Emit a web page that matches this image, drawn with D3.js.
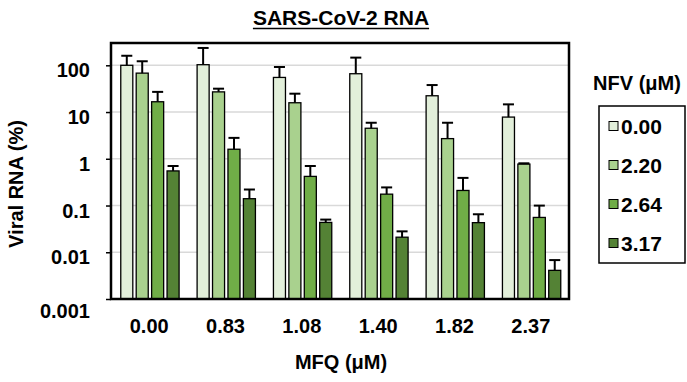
<!DOCTYPE html>
<html><head><meta charset="utf-8">
<script src="https://cdn.jsdelivr.net/npm/d3@7"></script>
<style>
body{margin:0;background:#fff;}
text{font-family:"Liberation Sans",Arial,sans-serif;font-weight:bold;fill:#000;}
</style></head>
<body><svg id="chart" width="687" height="382"></svg>
<script>
const categories = ["0.00","0.83","1.08","1.40","1.82","2.37"];
const seriesNames = ["0.00","2.20","2.64","3.17"];
const seriesColors = ["#e2efda","#a9d18e","#70ad47","#548235"];
const s0 = [100, 103, 55, 66, 22.3, 7.8];
const s1 = [68, 27, 15.8, 4.5, 2.7, 0.77];
const s2 = [16.6, 1.6, 0.42, 0.175, 0.21, 0.0556];
const s3 = [0.55, 0.14, 0.0435, 0.021, 0.043, 0.0041];
const e0 = [60, 132, 37, 80, 15.5, 6.8];
const e1 = [54, 4.6, 8.9, 1.4, 3.2, 0.03];
const e2 = [10.4, 1.2, 0.28, 0.069, 0.18, 0.044];
const e3 = [0.15, 0.08, 0.0065, 0.007, 0.022, 0.0027];
const yTicks = [0.001, 0.01, 0.1, 1, 10, 100];
const yTickLabels = ["0.001","0.01","0.1","1","10","100"];
const yMin = 0.001, yMax = 300;

const values = [s0, s1, s2, s3];
const errors = [e0, e1, e2, e3];

const svg = d3.select("#chart");
const L = 111, R = 569, T = 43, B = 299;

const x0 = d3.scaleBand().domain(categories).range([L, R]).padding(0);
const bw = x0.bandwidth();
const x1 = d3.scaleBand().domain(seriesNames).range([bw*0.128, bw*0.892]).paddingInner(0.22).paddingOuter(0);
const y = d3.scaleLog().domain([yMin, yMax]).range([B, T]);

// gridlines
svg.append("g").selectAll("line").data(yTicks.filter(d => d > yMin)).join("line")
  .attr("x1", L).attr("x2", R).attr("y1", d => y(d)).attr("y2", d => y(d))
  .attr("stroke", "#d9d9d9").attr("stroke-width", 1.5);

// y axis
const yAxis = d3.axisLeft(y).tickValues(yTicks).tickFormat((d,i) => yTickLabels[i]).tickSize(5).tickPadding(16);
const ga = svg.append("g").attr("transform", `translate(${L},0)`).call(yAxis);
ga.select(".domain").remove();
ga.selectAll(".tick line").attr("stroke", "#000").attr("stroke-width", 1.5);
ga.selectAll(".tick text").attr("font-size", 20).attr("font-family", null).attr("dy", "0.58em")
  .filter(d => d === yMin).attr("dy", "0.9em");

// bars
const data = [];
categories.forEach((c, i) => seriesNames.forEach((s, j) => data.push({c, s, j, v: values[j][i], e: errors[j][i]})));
const bars = svg.append("g");
bars.selectAll("rect").data(data).join("rect")
  .attr("x", d => x0(d.c) + x1(d.s)).attr("width", x1.bandwidth())
  .attr("y", d => y(d.v)).attr("height", d => B - y(d.v))
  .attr("fill", d => seriesColors[d.j]).attr("stroke", "#000").attr("stroke-width", 1.3);

// error bars
const eg = svg.append("g").attr("stroke", "#000").attr("stroke-width", 2);
eg.selectAll("line.v").data(data).join("line").attr("class","v")
  .attr("x1", d => x0(d.c) + x1(d.s) + x1.bandwidth()/2).attr("x2", d => x0(d.c) + x1(d.s) + x1.bandwidth()/2)
  .attr("y1", d => y(d.v)).attr("y2", d => y(d.v + d.e));
eg.selectAll("line.h").data(data).join("line").attr("class","h")
  .attr("x1", d => x0(d.c) + x1(d.s) + 0.5).attr("x2", d => x0(d.c) + x1(d.s) + x1.bandwidth() - 0.5)
  .attr("y1", d => y(d.v + d.e)).attr("y2", d => y(d.v + d.e));

// frame
svg.append("rect").attr("x", L).attr("y", T).attr("width", R - L).attr("height", B - T)
  .attr("fill", "none").attr("stroke", "#000").attr("stroke-width", 2.5);

// x axis labels
const xAxis = d3.axisBottom(x0).tickSize(0).tickPadding(20);
const gx = svg.append("g").attr("transform", `translate(0,${B})`).call(xAxis);
gx.select(".domain").remove();
gx.selectAll(".tick text").attr("font-size", 20).attr("font-family", null);

// axis titles
svg.append("text").attr("x", 341).attr("y", 369).attr("text-anchor", "middle").attr("font-size", 20).text("MFQ (μM)");
svg.append("text").attr("transform", "translate(23,184) rotate(-90)").attr("text-anchor", "middle").attr("font-size", 20).text("Viral RNA (%)");

// title
const title = svg.append("text").attr("x", 341).attr("y", 25).attr("text-anchor", "middle").attr("font-size", 21).text("SARS-CoV-2 RNA");
const tw = title.node().getComputedTextLength();
svg.append("line").attr("x1", 341 - tw/2).attr("x2", 341 + tw/2).attr("y1", 28.5).attr("y2", 28.5).attr("stroke", "#000").attr("stroke-width", 1.5);

// legend
svg.append("text").attr("x", 637).attr("y", 90).attr("text-anchor", "middle").attr("font-size", 20).text("NFV (μM)");
svg.append("rect").attr("x", 599).attr("y", 106).attr("width", 86).attr("height", 157).attr("fill", "none").attr("stroke", "#000").attr("stroke-width", 1.5);
const ly = d3.scalePoint().domain(seriesNames).range([126, 243]);
const lg = svg.append("g").selectAll("g").data(seriesNames).join("g").attr("transform", d => `translate(609,${ly(d)})`);
lg.append("rect").attr("x", 0).attr("y", -4.5).attr("width", 9).attr("height", 9)
  .attr("fill", (d,i) => seriesColors[i]).attr("stroke", "#000").attr("stroke-width", 1);
lg.append("text").attr("x", 12).attr("dy", "0.36em").attr("font-size", 21).text(d => d);
</script></body></html>
